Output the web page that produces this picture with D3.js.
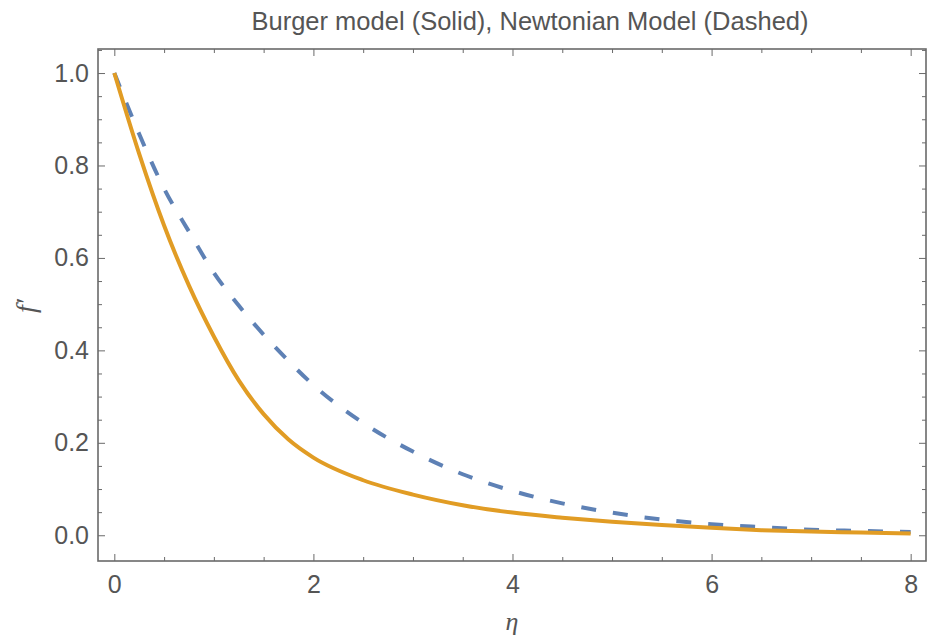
<!DOCTYPE html>
<html>
<head>
<meta charset="utf-8">
<script src="https://cdn.jsdelivr.net/npm/d3@7"></script>
<style>
  html, body { margin: 0; padding: 0; background: #fff; }
  svg { display: block; }
</style>
</head>
<body>
<svg id="chart" width="927" height="638"></svg>
<script>
// ---- data ----
const title = "Burger model (Solid), Newtonian Model (Dashed)";
const xLabel = "η";
const yLabel = "f′";
const eta = [0, 0.25, 0.5, 0.75, 1, 1.25, 1.5, 1.75, 2, 2.5, 3, 3.5, 4, 4.5, 5, 5.5, 6, 6.5, 7, 7.5, 8];
const burger = [1.0, 0.825, 0.67, 0.54, 0.43, 0.335, 0.262, 0.207, 0.168, 0.119, 0.088, 0.065, 0.049, 0.038, 0.029, 0.022, 0.016, 0.011, 0.008, 0.006, 0.004];
const newtonian = [1.0, 0.868, 0.75, 0.657, 0.568, 0.497, 0.434, 0.377, 0.325, 0.243, 0.181, 0.132, 0.096, 0.069, 0.049, 0.034, 0.024, 0.0175, 0.012, 0.0093, 0.007];
const xMajorTicks = [0, 2, 4, 6, 8];
const yMajorTicks = [0.0, 0.2, 0.4, 0.6, 0.8, 1.0];

// ---- layout ----
const svg = d3.select("#chart");
const pL = 98, pR = 926, pT = 49, pB = 561;
const x = d3.scaleLinear().domain([-0.164, 8.154]).range([pL, pR]);
const y = d3.scaleLinear().domain([-0.0557, 1.052]).range([pB, pT]);

const frameColor = "#6a6a6a";
const textColor = "#555555";
const font = "'Liberation Sans', Arial, sans-serif";

const xMinor = d3.range(0, 8.01, 0.5).filter(v => !xMajorTicks.includes(v));
const yMinor = d3.range(0, 1.051, 0.05).map(v => +v.toFixed(2)).filter(v => !yMajorTicks.some(t => Math.abs(t - v) < 1e-9));

function styleAxis(g) {
  g.select(".domain").remove();
  g.selectAll(".tick line").attr("stroke", frameColor).attr("stroke-width", 1);
  g.selectAll(".tick text").attr("fill", textColor).style("font-family", font).style("font-size", "25px");
}

// bottom
svg.append("g").attr("transform", `translate(0,${pB})`)
  .call(d3.axisBottom(x).tickValues(xMajorTicks).tickSize(-7).tickPadding(14).tickFormat(d3.format("d")))
  .call(styleAxis);
svg.append("g").attr("transform", `translate(0,${pB})`)
  .call(d3.axisBottom(x).tickValues(xMinor).tickSize(-4).tickFormat(""))
  .call(styleAxis);
// top
svg.append("g").attr("transform", `translate(0,${pT})`)
  .call(d3.axisTop(x).tickValues(xMajorTicks).tickSize(-7).tickFormat(""))
  .call(styleAxis);
svg.append("g").attr("transform", `translate(0,${pT})`)
  .call(d3.axisTop(x).tickValues(xMinor).tickSize(-4).tickFormat(""))
  .call(styleAxis);
// left
svg.append("g").attr("transform", `translate(${pL},0)`)
  .call(d3.axisLeft(y).tickValues(yMajorTicks).tickSize(-7).tickPadding(9).tickFormat(d3.format(".1f")))
  .call(styleAxis);
svg.append("g").attr("transform", `translate(${pL},0)`)
  .call(d3.axisLeft(y).tickValues(yMinor).tickSize(-4).tickFormat(""))
  .call(styleAxis);
// right
svg.append("g").attr("transform", `translate(${pR},0)`)
  .call(d3.axisRight(y).tickValues(yMajorTicks).tickSize(-7).tickFormat(""))
  .call(styleAxis);
svg.append("g").attr("transform", `translate(${pR},0)`)
  .call(d3.axisRight(y).tickValues(yMinor).tickSize(-4).tickFormat(""))
  .call(styleAxis);

// frame
svg.append("rect")
  .attr("x", pL).attr("y", pT)
  .attr("width", pR - pL).attr("height", pB - pT)
  .attr("fill", "none").attr("stroke", frameColor).attr("stroke-width", 1.6);

// clip
svg.append("clipPath").attr("id", "clip")
  .append("rect").attr("x", pL).attr("y", pT).attr("width", pR - pL).attr("height", pB - pT);

const line = d3.line().x(d => x(d[0])).y(d => y(d[1])).curve(d3.curveMonotoneX);

const plot = svg.append("g").attr("clip-path", "url(#clip)");
plot.append("path")
  .datum(eta.map((e, i) => [e, newtonian[i]]))
  .attr("d", line)
  .attr("fill", "none")
  .attr("stroke", "#5E81B5")
  .attr("stroke-width", 4)
  .attr("stroke-dasharray", "15,17");
plot.append("path")
  .datum(eta.map((e, i) => [e, burger[i]]))
  .attr("d", line)
  .attr("fill", "none")
  .attr("stroke", "#E19C24")
  .attr("stroke-width", 4);

// title
svg.append("text")
  .attr("x", 530).attr("y", 30)
  .attr("text-anchor", "middle")
  .attr("fill", textColor)
  .style("font-family", font).style("font-size", "25.5px")
  .text(title);

// axis labels
svg.append("text")
  .attr("x", 512).attr("y", 630)
  .attr("text-anchor", "middle")
  .attr("fill", textColor)
  .style("font-family", "'Liberation Serif', 'Times New Roman', serif").style("font-style", "italic").style("font-size", "26px")
  .text(xLabel);
svg.append("text")
  .attr("transform", "translate(35,306) rotate(-90)")
  .attr("text-anchor", "middle")
  .attr("fill", textColor)
  .style("font-family", "'Liberation Serif', 'Times New Roman', serif").style("font-style", "italic").style("font-size", "28px")
  .text(yLabel);
</script>
</body>
</html>
